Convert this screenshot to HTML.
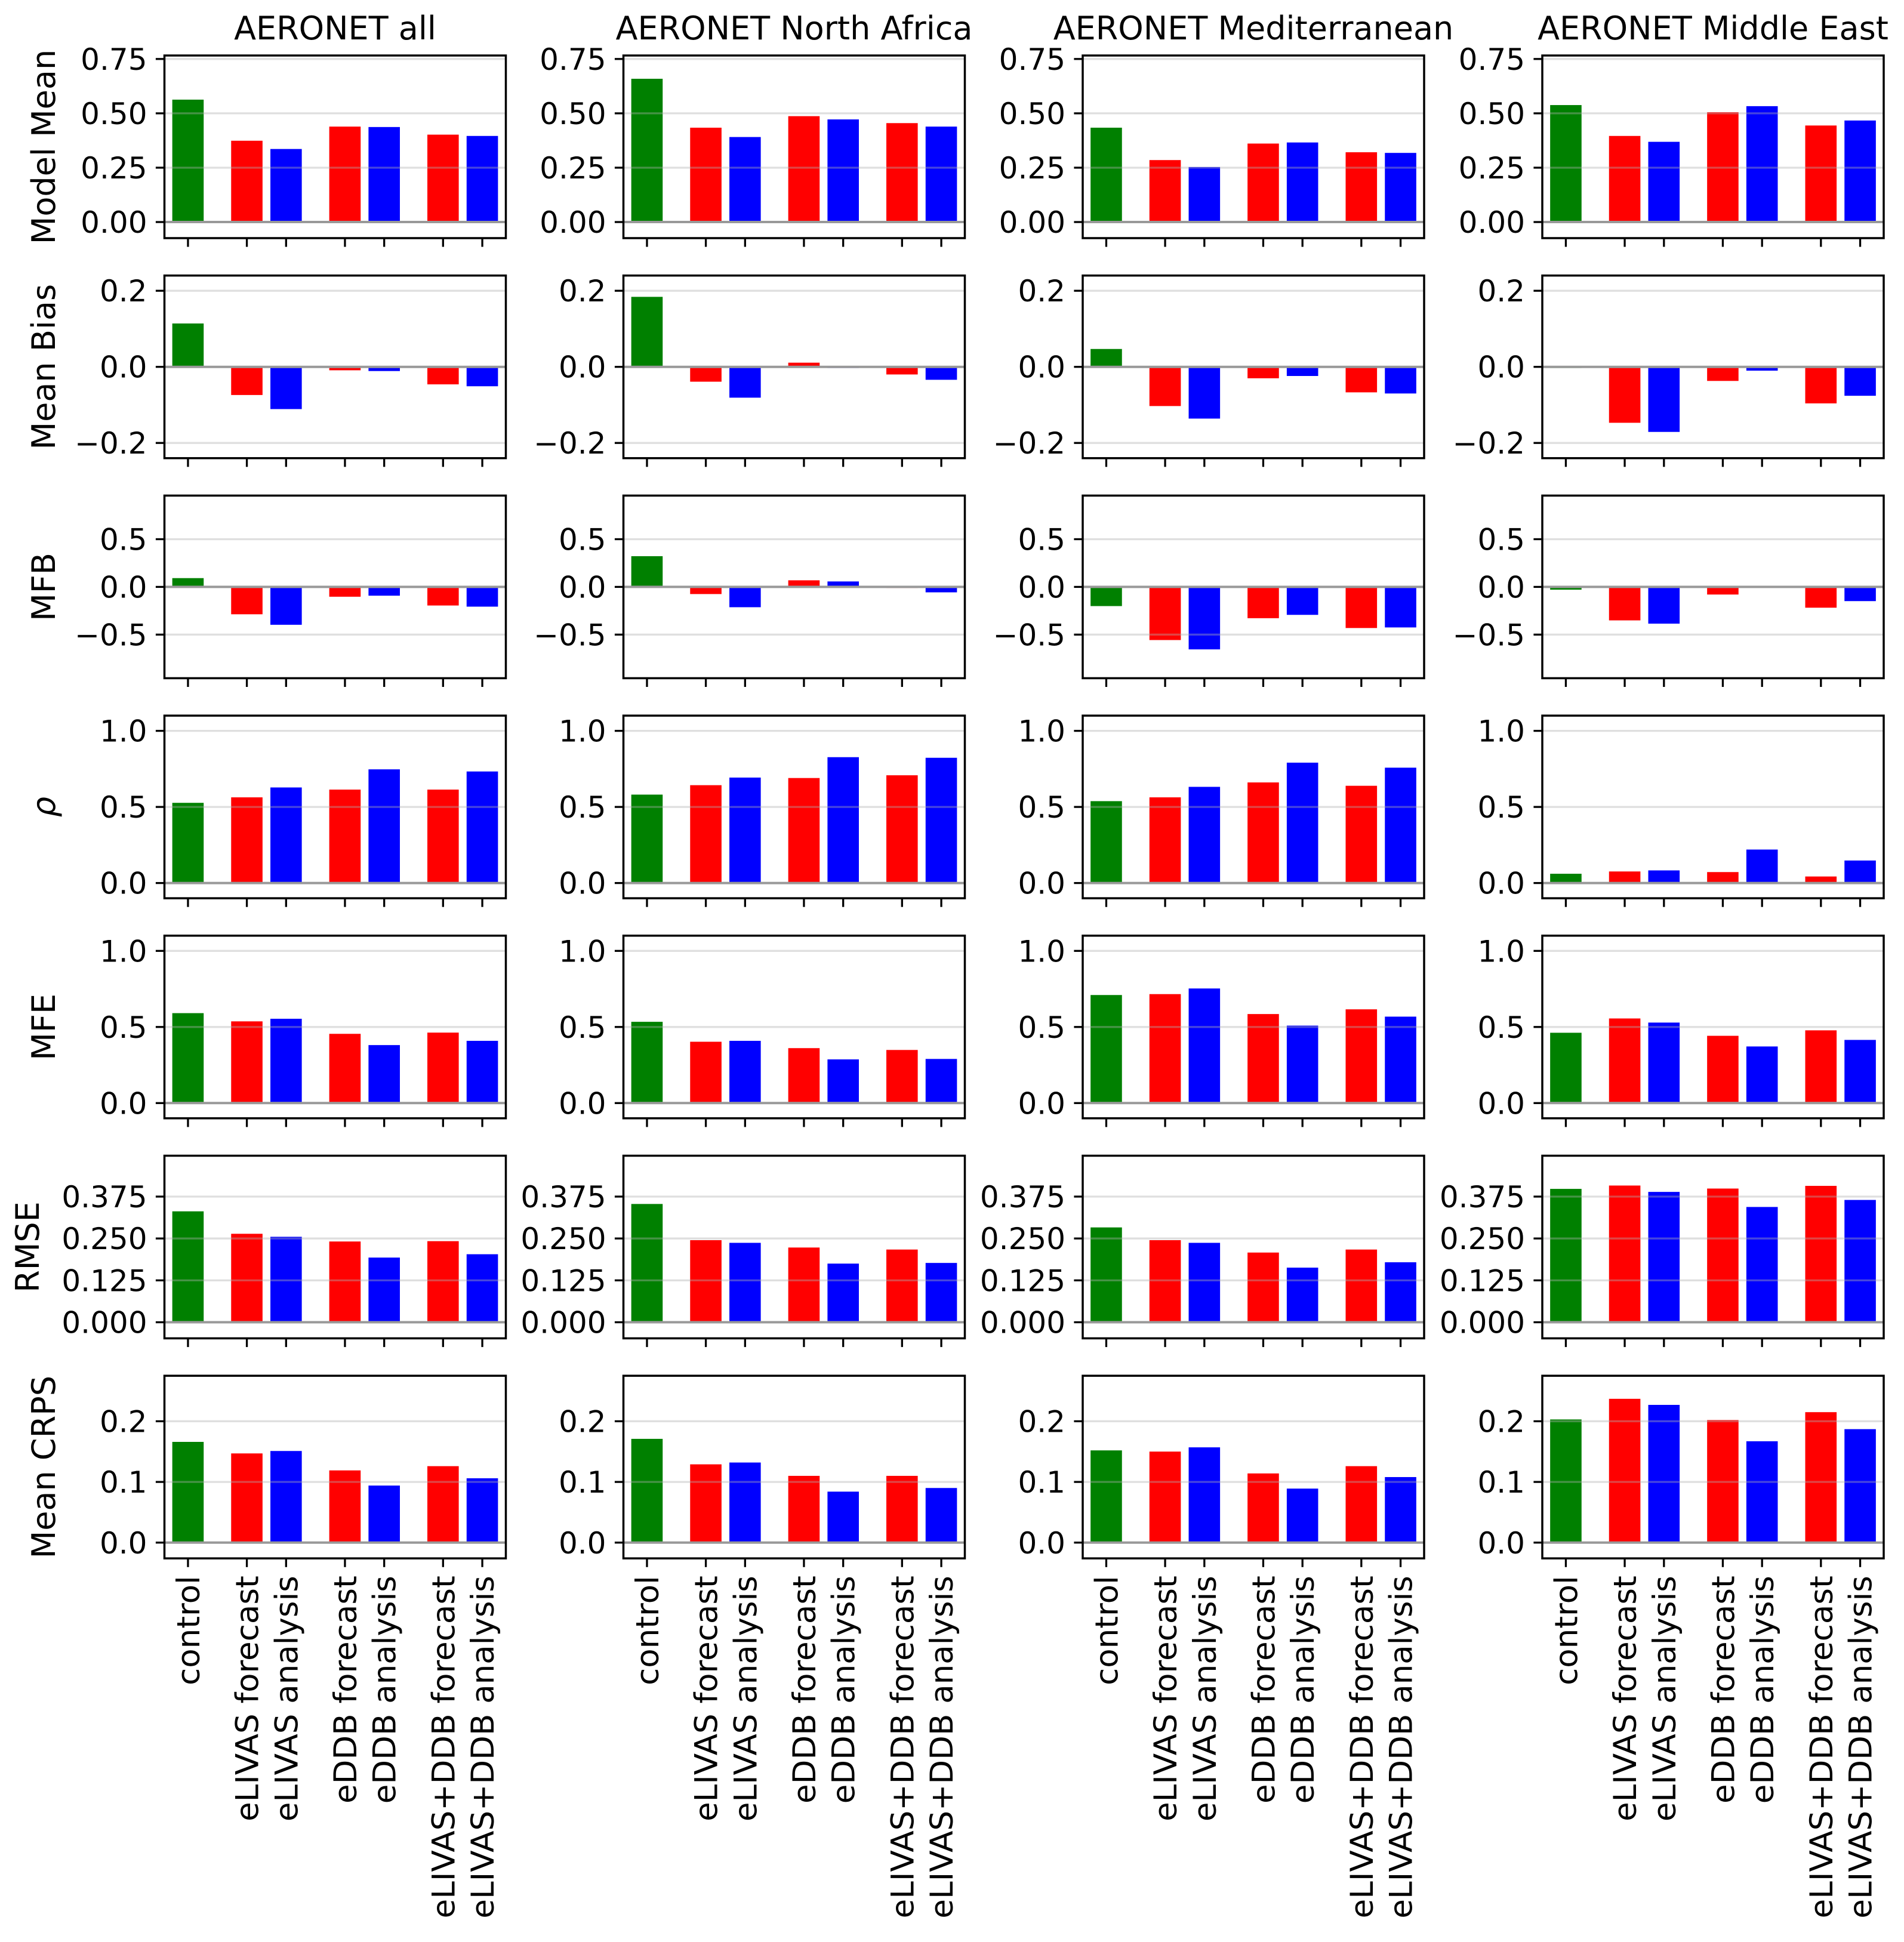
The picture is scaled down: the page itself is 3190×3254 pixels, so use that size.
<!DOCTYPE html>
<html><head><meta charset="utf-8">
<style>
html,body{margin:0;padding:0;background:#fff;}
svg{display:block;font-family:"DejaVu Sans","Liberation Sans",sans-serif;}
</style></head>
<body>
<svg id="fig" width="3190" height="3254" viewBox="0 0 3190 3254" xmlns="http://www.w3.org/2000/svg"></svg>
<script>
const regions = ["AERONET all","AERONET North Africa","AERONET Mediterranean","AERONET Middle East"];
const categories = ["control","eLIVAS forecast","eLIVAS analysis","eDDB forecast","eDDB analysis","eLIVAS+DDB forecast","eLIVAS+DDB analysis"];
const catPos = [0,1.5,2.5,4,5,6.5,7.5];
const catColors = ["#008000","#ff0000","#0000ff","#ff0000","#0000ff","#ff0000","#0000ff"];
const metrics = ["Model Mean","Mean Bias","MFB","ρ","MFE","RMSE","Mean CRPS"];
const yLimits = [[-0.074,0.766],[-0.24,0.24],[-0.957,0.957],[-0.1,1.1],[-0.1,1.1],[-0.048,0.497],[-0.026,0.275]];
const yTicks = [[0,0.25,0.5,0.75],[-0.2,0,0.2],[-0.5,0,0.5],[0,0.5,1.0],[0,0.5,1.0],[0,0.125,0.25,0.375],[0,0.1,0.2]];
const yTickLabels = [["0.00","0.25","0.50","0.75"],["−0.2","0.0","0.2"],["−0.5","0.0","0.5"],["0.0","0.5","1.0"],["0.0","0.5","1.0"],["0.000","0.125","0.250","0.375"],["0.0","0.1","0.2"]];
const valuesAll = [
 [0.563,0.374,0.336,0.439,0.437,0.402,0.396],
 [0.114,-0.074,-0.111,-0.009,-0.011,-0.046,-0.051],
 [0.092,-0.287,-0.397,-0.103,-0.092,-0.195,-0.207],
 [0.527,0.563,0.628,0.614,0.747,0.614,0.733],
 [0.591,0.537,0.554,0.455,0.381,0.463,0.409],
 [0.331,0.264,0.255,0.241,0.193,0.242,0.203],
 [0.166,0.147,0.151,0.119,0.094,0.126,0.106]];
const valuesNorthAfrica = [
 [0.659,0.434,0.391,0.487,0.472,0.455,0.439],
 [0.184,-0.039,-0.081,0.011,-0.003,-0.020,-0.034],
 [0.322,-0.075,-0.213,0.069,0.057,-0.011,-0.057],
 [0.581,0.643,0.693,0.690,0.827,0.708,0.823],
 [0.534,0.403,0.409,0.361,0.287,0.349,0.290],
 [0.353,0.245,0.237,0.223,0.175,0.217,0.177],
 [0.171,0.129,0.132,0.110,0.084,0.110,0.090]];
const valuesMediterranean = [
 [0.434,0.285,0.253,0.361,0.366,0.321,0.318],
 [0.047,-0.103,-0.136,-0.030,-0.024,-0.067,-0.070],
 [-0.201,-0.557,-0.655,-0.328,-0.293,-0.431,-0.425],
 [0.538,0.563,0.632,0.661,0.791,0.639,0.758],
 [0.710,0.716,0.753,0.585,0.509,0.616,0.568],
 [0.283,0.245,0.237,0.208,0.163,0.217,0.179],
 [0.152,0.150,0.157,0.114,0.089,0.126,0.108]];
const valuesMiddleEast = [
 [0.538,0.396,0.369,0.505,0.533,0.444,0.467],
 [-0.003,-0.147,-0.171,-0.037,-0.010,-0.096,-0.076],
 [-0.029,-0.351,-0.385,-0.080,-0.006,-0.218,-0.149],
 [0.061,0.076,0.083,0.072,0.220,0.043,0.148],
 [0.462,0.556,0.529,0.442,0.372,0.478,0.415],
 [0.398,0.408,0.389,0.399,0.344,0.407,0.365],
 [0.203,0.237,0.227,0.202,0.167,0.215,0.187]];
const allValues = [valuesAll,valuesNorthAfrica,valuesMediterranean,valuesMiddleEast];

const NS = "http://www.w3.org/2000/svg";
const svg = document.getElementById("fig");
const colLeft = [275.5,1044.5,1814,2584];
const axW = 572, axH = 306, rowTop0 = 93, rowPitch = 368.7;
const XMIN = -0.6, XMAX = 8.1;
const ylabelX = [73,73,73,73,73,46,73];
const slug = s => s.toLowerCase().replace(/[^a-z0-9]+/g,'-').replace(/^-|-$/g,'');

function mk(tag, attrs, parent){
  const e = document.createElementNS(NS, tag);
  for (const k in attrs) e.setAttribute(k, attrs[k]);
  (parent||svg).appendChild(e);
  return e;
}
function xScale(c, v){ return colLeft[c] + (v - XMIN)/(XMAX - XMIN)*axW; }
function yScale(r, v){ const [a,b] = yLimits[r]; const top = rowTop0 + r*rowPitch; return top + (b - v)/(b - a)*axH; }

for (let c = 0; c < 4; c++){
  const t = mk("text",{x: colLeft[c]+axW/2, y: 66, "text-anchor":"middle", "font-size":54, fill:"#000"});
  t.textContent = regions[c];
  
  
  for (let r = 0; r < 7; r++){
    const top = rowTop0 + r*rowPitch;
    const g = mk("g",{});
    
    
    const vals = allValues[c][r];
    for (let i = 0; i < 7; i++){
      const xc = xScale(c, catPos[i]);
      const bw = 0.8/(XMAX-XMIN)*axW;
      const y0 = yScale(r, 0), y1 = yScale(r, vals[i]);
      const b = mk("rect",{x: xc-bw/2, y: Math.min(y0,y1), width: bw, height: Math.max(0.5,Math.abs(y1-y0)), fill: catColors[i]}, g);
      
      
    }
    yTicks[r].forEach((tv, k) => {
      const y = yScale(r, tv);
      const gl = mk("line",{x1: colLeft[c], x2: colLeft[c]+axW, y1: y, y2: y, stroke: tv===0?"#999":"#b0b0b0", "stroke-opacity": tv===0?1:0.4, "stroke-width": tv===0?4:3.3}, g);
      
      
      mk("line",{x1: colLeft[c]-14.6, x2: colLeft[c], y1: y, y2: y, stroke:"#000", "stroke-width":3.3}, g);
      const tl = mk("text",{x: colLeft[c]-29, y: y+18, "text-anchor":"end", "font-size":50, fill:"#000"}, g);
      tl.textContent = yTickLabels[r][k];
      
      
    });
    for (let i = 0; i < 7; i++){
      const xc = xScale(c, catPos[i]);
      mk("line",{x1: xc, x2: xc, y1: top+axH, y2: top+axH+14.6, stroke:"#000", "stroke-width":3.3}, g);
    }
    const frame = mk("rect",{x: colLeft[c], y: top, width: axW, height: axH, fill:"none", stroke:"#000", "stroke-width":3.5}, g);
    
    
    if (c === 0){
      const cy = top + axH/2;
      const yl = mk("text",{x: ylabelX[r]+19, y: cy, "text-anchor":"middle", "font-size":54, fill:"#000", transform:`rotate(-90 ${ylabelX[r]+19} ${cy})`, "font-style": metrics[r]==="ρ"?"italic":"normal"});
      yl.textContent = metrics[r];
      
      
    }
    if (r === 6){
      for (let i = 0; i < 7; i++){
        const xb = xScale(c, catPos[i]) + 19, yb = top + axH + 29;
        const xl = mk("text",{x: xb, y: yb, "text-anchor":"end", "font-size":53, fill:"#000", transform:`rotate(-90 ${xb} ${yb})`});
        xl.textContent = categories[i];
        
        
      }
    }
  }
}
</script>
</body></html>
